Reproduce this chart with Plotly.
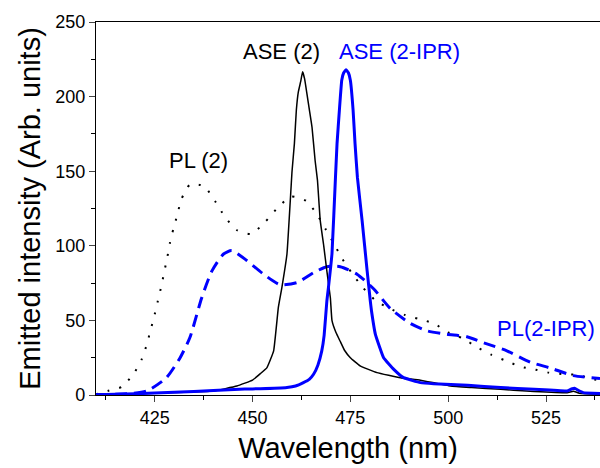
import plotly.graph_objects as go

# ---- data ----
pl2_x = [410, 413, 416.7, 419.8, 421.7, 423, 424, 425, 425.8, 426.7, 427.4, 428.2, 428.9,
         429.8, 430.8, 431.8, 434, 437.6, 440.4, 442.8, 445.9, 449.7, 453.2, 456.5, 459.8,
         463.8, 466.6, 468.8, 470.9, 473, 475.3, 478.2, 481.6, 485, 489, 492.5, 496.3, 500,
         503.7, 507.4, 511, 514.7, 518.5, 522.3, 525.7, 529.6, 533.4, 536.8, 538.8]
pl2_y = [0.5, 2.7, 5.6, 15, 24, 34, 44, 54, 63, 73, 82, 92, 102,
         111.6, 121, 131, 141, 140, 130, 120, 110.6, 108, 116, 125.7, 133,
         130, 120.5, 110.6, 101, 91, 82, 72, 63, 58, 53.6, 51, 48, 42,
         38, 32, 27, 23, 19, 17, 15, 14, 13.4, 10.5, 10]

plipr_x = [410, 418, 423, 428, 431.5, 434, 437, 439.6, 442.6, 444.7, 448.6, 452.8, 457,
           461.4, 465.6, 469, 472.4, 476.7, 481, 485.2, 490.3, 494.6, 499.7, 504.8, 509.1,
           515, 521, 526.2, 532, 538.8]
plipr_y = [0.3, 0.8, 2.7, 11.6, 25, 38.5, 65, 83, 94.5, 96.8, 90, 81, 74,
           75.4, 82, 86, 86, 81, 71, 58, 48, 43, 40.7, 39, 35,
           29.6, 22, 18, 13, 11]

ase2_x = [410, 420, 430, 440, 446, 450, 452, 453.7, 455.4, 456.6, 457.5, 458.8, 460.1,
          460.7, 461.2, 461.7, 462.3, 462.8, 463.3, 463.9, 464.6, 465.2, 466, 466.6, 467.3,
          468.2, 469, 469.9, 470.3, 471.3, 472.4, 473.5, 475, 477.5, 481.8, 487.8, 492.9,
          500.6, 506, 513.4, 520, 530.4, 532, 533.5, 538.8]
ase2_y = [0.3, 0.8, 1.6, 2.7, 6, 10, 14.3, 18.4, 29.6, 58.7, 72, 94.5, 150,
          168.5, 191, 203, 210, 216.6, 212, 202, 190, 179.6, 157, 143.8, 117,
          100, 83, 65, 50, 42, 36, 30, 25, 19.5, 15, 11.6, 9.9,
          6, 5, 3.8, 2.6, 1.5, 2.5, 1.2, 0.5]

aseipr_x = [410, 420, 430, 440, 448, 452, 458.8, 461, 463, 464.5, 465.6, 466.7, 467.7,
            468.3, 469, 469.4, 470.3, 471.2, 471.6, 472.2, 472.8, 473.3, 473.9, 474.5, 475,
            475.7, 476.2, 476.8, 478, 479.3, 480.1, 480.4, 481.4, 483.5, 486.1, 488.6,
            492.9, 496.3, 505, 513.4, 522, 530.4, 531.5, 532.3, 533.2, 534.5, 538.8]
aseipr_y = [0.2, 0.8, 1.8, 3, 4, 4.2, 5, 6, 8.3, 10.5, 13.9, 20, 29.6,
            40, 63, 72, 94.5, 146, 168.5, 191, 211, 216, 218, 216, 211,
            191, 168.5, 146, 117, 83, 63, 56.5, 40.7, 25, 17.2, 11.6,
            8.3, 7.5, 6.5, 5, 3.8, 2.7, 4, 4.5, 3.2, 1.6, 1]

x_ticks = [425, 450, 475, 500, 525]
y_ticks = [0, 50, 100, 150, 200, 250]

FONT = "Liberation Sans"

fig = go.Figure()
fig.add_trace(go.Scatter(x=pl2_x, y=pl2_y, mode="lines",
                         line=dict(color="black", width=2, dash="2px,10px", shape="spline", smoothing=0.6)))
fig.add_trace(go.Scatter(x=plipr_x, y=plipr_y, mode="lines",
                         line=dict(color="#0000ff", width=3, dash="12px,7px", shape="spline", smoothing=0.6)))
fig.add_trace(go.Scatter(x=ase2_x, y=ase2_y, mode="lines",
                         line=dict(color="black", width=1.5, shape="spline", smoothing=0.3)))
fig.add_trace(go.Scatter(x=aseipr_x, y=aseipr_y, mode="lines",
                         line=dict(color="#0000ff", width=3, shape="spline", smoothing=0.3)))

ann = [
    dict(text="ASE (2)", x=281, y=51, color="black"),
    dict(text="ASE (2-IPR)", x=399, y=51, color="#0000ff"),
    dict(text="PL (2)", x=198, y=160, color="black"),
    dict(text="PL(2-IPR)", x=546, y=328, color="#0000ff"),
]
W, H = 600 - 96, 468 - 22 - 73
for a in ann:
    fig.add_annotation(text=a["text"], x=(a["x"] - 96) / W, y=(468 - 73 - a["y"]) / H,
                       xref="paper", yref="paper",
                       showarrow=False, xanchor="center", yanchor="middle",
                       font=dict(family=FONT, size=22, color=a["color"]))

fig.update_layout(
    width=600, height=468,
    margin=dict(l=96, r=0, t=22, b=73),
    paper_bgcolor="white", plot_bgcolor="white",
    showlegend=False,
    font=dict(family=FONT, color="black"),
)

fig.update_xaxes(range=[410, 538.8], tickvals=x_ticks, ticks="outside", ticklen=6, tickwidth=1.2,
                 showline=True, linecolor="black", linewidth=1.2, mirror=True, showgrid=False,
                 zeroline=False, tickfont=dict(size=18, family=FONT),
                 minor=dict(tickvals=[412.5, 437.5, 462.5, 487.5, 512.5, 537.5], ticks="outside",
                            ticklen=4, tickwidth=1.2, tickcolor="black"),
                 title=dict(text="Wavelength (nm)", font=dict(size=29, family=FONT), standoff=10))
fig.update_yaxes(range=[0, 250], tickvals=y_ticks, ticks="outside", ticklen=6, tickwidth=1.2,
                 showline=True, linecolor="black", linewidth=1.2, showgrid=False,
                 zeroline=False, tickfont=dict(size=18, family=FONT),
                 minor=dict(tickvals=[25, 75, 125, 175, 225], ticks="outside",
                            ticklen=4, tickwidth=1.2, tickcolor="black"),
                 title=dict(text="Emitted intensity (Arb. units)", font=dict(size=29, family=FONT), standoff=6))

fig.write_html("out.html")
